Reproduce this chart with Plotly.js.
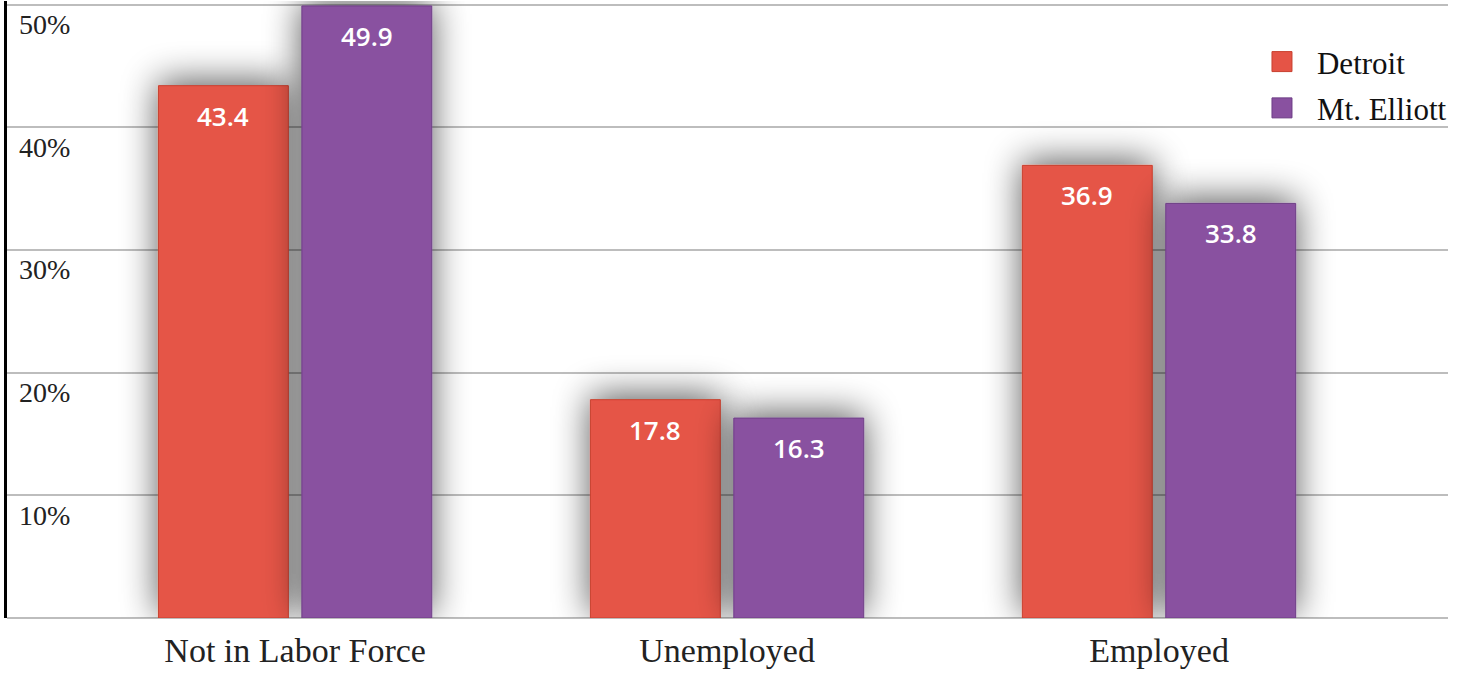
<!DOCTYPE html>
<html>
<head>
<meta charset="utf-8">
<script src="https://cdn.plot.ly/plotly-3.0.1.min.js"></script>
<style>
  html, body { margin: 0; padding: 0; background: #ffffff; }
  #chart { width: 1466px; height: 673px; }
</style>
</head>
<body>
<svg width="0" height="0" style="position:absolute">
  <defs>
    <filter id="barShadow" filterUnits="userSpaceOnUse" x="-200" y="-200" width="2000" height="1100">
      <feGaussianBlur in="SourceAlpha" stdDeviation="18" result="blur"/>
      <feOffset in="blur" dx="0" dy="-4" result="off"/>
      <feComponentTransfer in="off" result="soft">
        <feFuncA type="linear" slope="0.65"/>
      </feComponentTransfer>
      <feMerge>
        <feMergeNode in="soft"/>
        <feMergeNode in="SourceGraphic"/>
      </feMerge>
    </filter>
  </defs>
</svg>
<div id="chart"></div>
<script>
const categories = ["Not in Labor Force", "Unemployed", "Employed"];
const seriesNames = ["Detroit", "Mt. Elliott"];
const detroit = [43.4, 17.8, 36.9];
const mtElliott = [49.9, 16.3, 33.8];
const yTickVals = [10, 20, 30, 40, 50];
const yTickText = ["10%", "20%", "30%", "40%", "50%"];

const colors = ["#E55446", "#8951A0"];
const lineColors = ["#C8402F", "#6E3E86"];
const series = [detroit, mtElliott];

const traces = series.map((vals, i) => ({
  type: "bar",
  name: seriesNames[i],
  legendgroup: seriesNames[i],
  x: categories,
  y: vals,
  marker: { color: colors[i], line: { color: lineColors[i], width: 1 } },
  hoverinfo: "none"
}));

const labelShift = [-72, 72];
const annotations = [];
series.forEach((vals, i) => {
  vals.forEach((v, j) => {
    annotations.push({
      x: categories[j], y: v, xref: "x", yref: "y",
      text: v.toFixed(1), showarrow: false,
      xanchor: "center", yanchor: "top",
      xshift: labelShift[i], yshift: -10,
      font: { family: "Open Sans, sans-serif", size: 26, color: "#ffffff", weight: 600 }
    });
  });
});

const layout = {
  width: 1466, height: 673,
  margin: { l: 7, r: 18, t: 1, b: 55, pad: 0 },
  paper_bgcolor: "#ffffff", plot_bgcolor: "#ffffff",
  barmode: "group",
  bargap: 0.336,
  bargroupgap: 0.094,
  showlegend: true,
  legend: {
    x: 0.8605, y: 0.945, xanchor: "left", yanchor: "top",
    bgcolor: "rgba(0,0,0,0)",
    traceorder: "grouped",
    tracegroupgap: 3,
    font: { family: "Liberation Serif, serif", size: 31, color: "#111111" },
    itemwidth: 60
  },
  xaxis: {
    type: "category",
    range: [-0.667, 2.669],
    showgrid: false, zeroline: false, showline: false,
    ticks: "",
    ticklabelstandoff: 9,
    tickfont: { family: "Liberation Serif, serif", size: 34, color: "#222222" },
    fixedrange: true
  },
  yaxis: {
    range: [0, 50.3],
    tickvals: yTickVals, ticktext: yTickText,
    ticklabelposition: "inside bottom",
    ticklabelstandoff: 13,
    ticks: "",
    tickfont: { family: "Liberation Serif, serif", size: 28, color: "#222222" },
    showgrid: true, gridcolor: "#bdbdbd", gridwidth: 2,
    zeroline: true, zerolinecolor: "#bdbdbd", zerolinewidth: 2,
    showline: true, linecolor: "#000000", linewidth: 3,
    fixedrange: true
  },
  annotations: annotations
};

Plotly.newPlot("chart", traces, layout, { displayModeBar: false, staticPlot: true }).then(() => {
  document.querySelectorAll("#chart .barlayer .point path").forEach(p => {
    p.setAttribute("filter", "url(#barShadow)");
  });
  document.querySelectorAll("#chart .legend .legendpoints path").forEach(p => {
    p.setAttribute("d", "M10,10H-10V-10H10Z");
  });
});
</script>
</body>
</html>
